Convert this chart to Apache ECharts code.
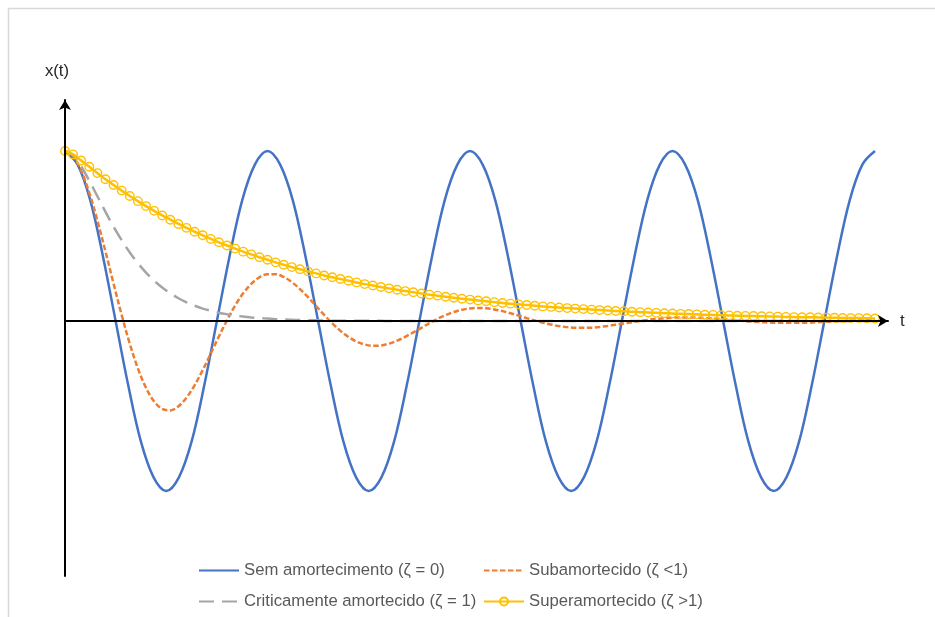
<!DOCTYPE html>
<html>
<head>
<meta charset="utf-8">
<script src="https://cdn.jsdelivr.net/npm/echarts@6/dist/echarts.min.js"></script>
<style>
  html, body { margin: 0; padding: 0; background: #ffffff; }
  #chart { width: 935px; height: 617px; }
</style>
</head>
<body>
<div id="chart"></div>
<script>
// Free response x(t) of a mass-spring system for four damping ratios.
const seriesNames = [
  'Sem amortecimento (ζ = 0)',
  'Subamortecido (ζ <1)',
  'Criticamente amortecido (ζ = 1)',
  'Superamortecido (ζ >1)'
];

// Undamped oscillation: 4 full periods of 25 time steps, 16 samples per period.
const periodSteps = 25;
const samplesPerPeriod = 16;
const undamped = [
  1, 0.92, 0.71, 0.38, 0, -0.38, -0.71, -0.92, -1, -0.92, -0.71, -0.38, 0, 0.38, 0.71, 0.92,
  1, 0.92, 0.71, 0.38, 0, -0.38, -0.71, -0.92, -1, -0.92, -0.71, -0.38, 0, 0.38, 0.71, 0.92,
  1, 0.92, 0.71, 0.38, 0, -0.38, -0.71, -0.92, -1, -0.92, -0.71, -0.38, 0, 0.38, 0.71, 0.92,
  1, 0.92, 0.71, 0.38, 0, -0.38, -0.71, -0.92, -1, -0.92, -0.71, -0.38, 0, 0.38, 0.71, 0.92,
  1
];

// The damped responses are sampled at every time step 0..100.
const underdamped = [
  1, 0.970, 0.884, 0.754, 0.591, 0.409, 0.219, 0.035, -0.134, -0.279,
  -0.393, -0.473, -0.517, -0.526, -0.502, -0.451, -0.378, -0.289, -0.191, -0.091,
  0.004, 0.091, 0.163, 0.219, 0.257, 0.275, 0.275, 0.259, 0.229, 0.188,
  0.140, 0.088, 0.036, -0.014, -0.058, -0.094, -0.121, -0.138, -0.146, -0.144,
  -0.133, -0.116, -0.093, -0.067, -0.040, -0.012, 0.013, 0.035, 0.053, 0.066,
  0.074, 0.077, 0.075, 0.068, 0.058, 0.046, 0.032, 0.017, 0.003, -0.010,
  -0.021, -0.030, -0.036, -0.040, -0.040, -0.039, -0.035, -0.029, -0.022, -0.015,
  -0.007, 0.000, 0.007, 0.012, 0.017, 0.020, 0.021, 0.021, 0.020, 0.018,
  0.015, 0.011, 0.007, 0.003, -0.001, -0.004, -0.007, -0.009, -0.011, -0.011,
  -0.011, -0.010, -0.009, -0.007, -0.005, -0.003, -0.001, 0.001, 0.003, 0.004,
  0.005
];

const critical = [
  1, 0.973, 0.909, 0.825, 0.734, 0.642, 0.555, 0.475, 0.403, 0.340,
  0.285, 0.237, 0.197, 0.163, 0.134, 0.110, 0.090, 0.073, 0.060, 0.049,
  0.040, 0.032, 0.026, 0.021, 0.017, 0.014, 0.011, 0.009, 0.007, 0.006,
  0.004, 0.004, 0.003, 0.002, 0.002, 0.001, 0.001, 0.001, 0.001, 0.001,
  0, 0, 0, 0, 0, 0, 0, 0, 0, 0,
  0, 0, 0, 0, 0, 0, 0, 0, 0, 0,
  0, 0, 0, 0, 0, 0, 0, 0, 0, 0,
  0, 0, 0, 0, 0, 0, 0, 0, 0, 0,
  0, 0, 0, 0, 0, 0, 0, 0, 0, 0,
  0, 0, 0, 0, 0, 0, 0, 0, 0, 0,
  0
];

const overdamped = [
  1, 0.980, 0.944, 0.907, 0.870, 0.834, 0.800, 0.767, 0.735, 0.705,
  0.676, 0.648, 0.621, 0.596, 0.571, 0.548, 0.525, 0.504, 0.483, 0.463,
  0.444, 0.426, 0.408, 0.392, 0.375, 0.360, 0.345, 0.331, 0.317, 0.304,
  0.292, 0.280, 0.268, 0.257, 0.247, 0.237, 0.227, 0.217, 0.209, 0.200,
  0.192, 0.184, 0.176, 0.169, 0.162, 0.155, 0.149, 0.143, 0.137, 0.131,
  0.126, 0.121, 0.116, 0.111, 0.106, 0.102, 0.098, 0.094, 0.090, 0.086,
  0.083, 0.079, 0.076, 0.073, 0.070, 0.067, 0.064, 0.062, 0.059, 0.057,
  0.054, 0.052, 0.050, 0.048, 0.046, 0.044, 0.042, 0.041, 0.039, 0.037,
  0.036, 0.034, 0.033, 0.031, 0.030, 0.029, 0.028, 0.027, 0.026, 0.024,
  0.023, 0.022, 0.022, 0.021, 0.020, 0.019, 0.018, 0.017, 0.017, 0.016,
  0.015
];

// pair each sample with its time (in steps)
const pairs = (arr, dt) => arr.map((v, i) => [i * dt, v]);

const FONT = '"Liberation Sans", Arial, sans-serif';
const legendText = { color: '#595959', fontSize: 16.7, fontFamily: FONT, lineHeight: 20 };

function legendFor(name, left, top, showSymbol) {
  return {
    data: [name], left: left, top: top, padding: 0,
    itemWidth: 40, itemHeight: 10, textStyle: legendText,
    itemStyle: showSymbol ? {} : { opacity: 0 },
    selectedMode: false
  };
}

const chart = echarts.init(document.getElementById('chart'), null, { renderer: 'canvas' });

chart.setOption({
  animation: false,
  backgroundColor: '#ffffff',
  graphic: [{
    type: 'rect',
    shape: { x: 8.5, y: 8.5, width: 1200, height: 1200 },
    style: { fill: 'none', stroke: '#d9d9d9', lineWidth: 1.5 },
    silent: true, z: -10
  }],
  grid: { left: 65, top: 100, width: 823, height: 476, containLabel: false },
  legend: [
    legendFor(seriesNames[0], 198, 560.5, false),
    legendFor(seriesNames[1], 483, 560.5, false),
    legendFor(seriesNames[2], 198, 591.5, false),
    legendFor(seriesNames[3], 483, 591.5, true)
  ],
  xAxis: {
    type: 'value', min: 0, max: 101.605, z: 5,
    name: 't', nameLocation: 'end', nameGap: 12,
    nameTextStyle: { color: '#262626', fontSize: 16.7, fontFamily: FONT },
    axisLine: { onZero: true, lineStyle: { color: '#000000', width: 2 }, symbol: ['none', 'arrow'], symbolSize: [9, 10] },
    axisTick: { show: false }, axisLabel: { show: false }, splitLine: { show: false }
  },
  yAxis: {
    type: 'value', min: -1.5, max: 1.3, z: 5,
    name: 'x(t)', nameLocation: 'end', nameGap: 20.6,
    nameTextStyle: { color: '#262626', fontSize: 16.7, fontFamily: FONT, align: 'center', padding: [0, 16, 0, 0] },
    axisLine: { lineStyle: { color: '#000000', width: 2 }, symbol: ['none', 'arrow'], symbolSize: [9, 10] },
    axisTick: { show: false }, axisLabel: { show: false }, splitLine: { show: false }
  },
  series: [
    {
      name: seriesNames[0], type: 'line', data: pairs(undamped, periodSteps / samplesPerPeriod), smooth: 0.35,
      symbol: 'none', color: '#4472C4',
      lineStyle: { color: '#4472C4', width: 2.5 }
    },
    {
      name: seriesNames[1], type: 'line', data: pairs(underdamped, 1), smooth: 0.35,
      symbol: 'none', color: '#ED7D31',
      lineStyle: { color: '#ED7D31', width: 2.5, type: [5.5, 2.5] }
    },
    {
      name: seriesNames[2], type: 'line', data: pairs(critical, 1), smooth: 0.35,
      symbol: 'none', color: '#A5A5A5',
      lineStyle: { color: '#A5A5A5', width: 2.5, type: [15, 8] }
    },
    {
      name: seriesNames[3], type: 'line', data: pairs(overdamped, 1), smooth: 0.35,
      symbol: 'circle', symbolSize: 8.5, showSymbol: true,
      itemStyle: { color: 'rgba(255,255,255,0)', borderColor: '#FFC000', borderWidth: 1.4 },
      lineStyle: { color: '#FFC000', width: 2.5 }
    }
  ]
});
</script>
</body>
</html>
